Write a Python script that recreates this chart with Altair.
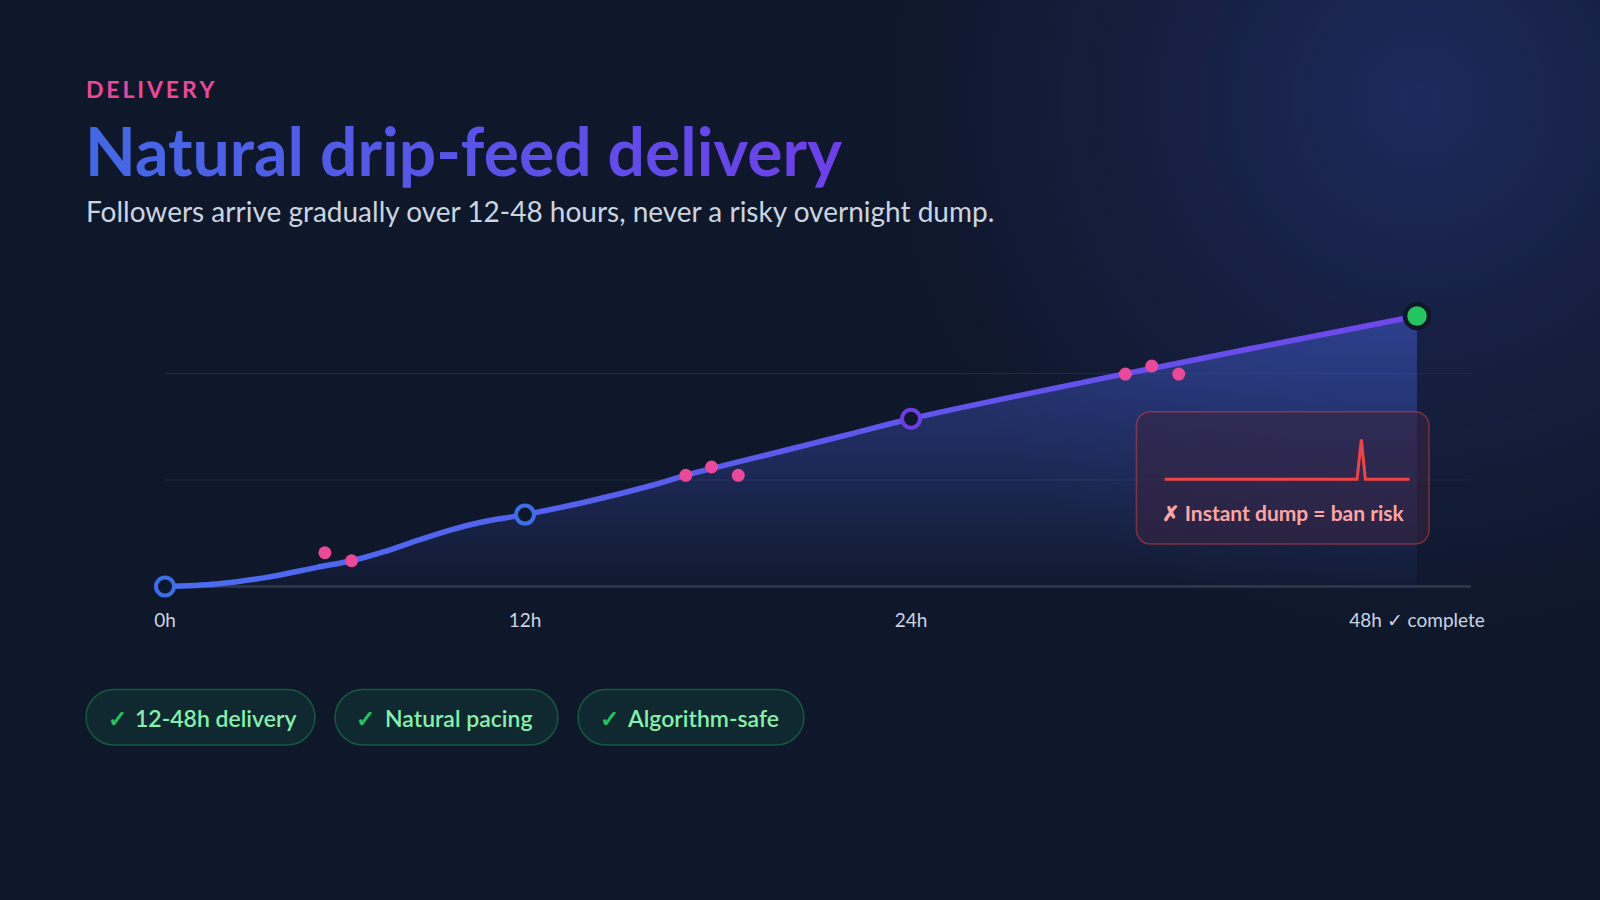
import altair as alt
import pandas as pd

# ---------------- data ----------------
curve_hours = [0, 1.72, 3.39, 5.06, 6.22, 7.28, 8.39, 9.5, 10.61, 12, 13.92, 15.99, 17.0, 20.13, 22.2, 24, 34.17, 48]
curve_values = [0, 2.3, 8.6, 18.0, 24.2, 32.5, 43.0, 53.0, 60.8, 67.5, 79.6, 95.3, 104.4, 128.2, 143.8, 157.5, 199.8, 254]

milestone_hours = [0, 12, 24]
milestone_values = [0, 67.5, 157.5]
complete_hours = [48]
complete_values = [254]

arrival_hours = [5.33, 6.22, 17.0, 17.8, 18.63, 34.17, 35.42, 36.7]
arrival_values = [31.7, 24.2, 104.4, 112.2, 104.4, 199.5, 207.0, 199.5]

grid_levels = [100, 200]
tick_hours = [0, 12, 24, 48]
tick_labels = ["0h", "12h", "24h", "48h \u2713 complete"]

# "instant dump" inset sparkline (in the main chart's units)
dump_hours = [36.03, 45.16, 45.36, 45.55, 47.64]
dump_values = [100.7, 100.7, 138.2, 100.7, 100.7]
dump_box = {"h0": 34.69, "h1": 48.57, "v0": 39.9, "v1": 164.1}
dump_text = "\u2717 Instant dump = ban risk"

eyebrow = "D\u2009E\u2009L\u2009I\u2009V\u2009E\u2009R\u2009Y"
title = "Natural drip-feed delivery"
subtitle = "Followers arrive gradually over 12-48 hours, never a risky overnight dump."
pill_labels = ["12-48h delivery", "Natural pacing", "Algorithm-safe"]

# ---------------- styling / layout ----------------
FONT = "Lato"
BG = "#0f172a"
X_END = 50.56

xs = alt.Scale(domain=[0, 12, 24, 48], range=[165, 525, 911, 1417], nice=False, zero=False)
ys = alt.Scale(domain=[0, 200], range=[586.5, 373.5], nice=False, zero=False)

def X(f):
    return alt.X(f, type="quantitative", scale=xs, axis=None)

def Y(f):
    return alt.Y(f, type="quantitative", scale=ys, axis=None)

one = pd.DataFrame({"_": [0]})

curve = pd.DataFrame({"h": curve_hours, "v": curve_values})
miles = pd.DataFrame({"h": milestone_hours, "v": milestone_values})
comp = pd.DataFrame({"h": complete_hours, "v": complete_values})
arr = pd.DataFrame({"h": arrival_hours, "v": arrival_values})
grid = pd.DataFrame({"v": grid_levels, "h0": 0, "h1": X_END})
base_line = pd.DataFrame({"v": [0], "h0": [0], "h1": [X_END]})
ticks = pd.DataFrame({"h": tick_hours, "t": tick_labels})
dump = pd.DataFrame({"h": dump_hours, "v": dump_values})
box = pd.DataFrame([dump_box])
box_txt = pd.DataFrame({"h": [(dump_box["h0"] + dump_box["h1"]) / 2], "v": [66.9], "t": [dump_text]})

# background glow
glow = alt.Chart(one).mark_rect(
    fill=alt.RadialGradient(
        gradient="radial", x1=0.5, y1=0.5, r1=0, x2=0.5, y2=0.5, r2=0.5,
        stops=[alt.GradientStop(offset=0, color="rgba(64,84,210,0.30)"),
               alt.GradientStop(offset=0.5, color="rgba(64,84,210,0.13)"),
               alt.GradientStop(offset=1, color="rgba(64,84,210,0)")])
).encode(x=alt.value(880), x2=alt.value(1960), y=alt.value(-440), y2=alt.value(640))

grid_l = alt.Chart(grid).mark_rule(stroke="#1f2a3c", strokeWidth=1).encode(
    x=X("h0"), x2="h1", y=Y("v"))
base_l = alt.Chart(base_line).mark_rule(stroke="#2f3a4d", strokeWidth=2.5).encode(
    x=X("h0"), x2="h1", y=Y("v"))

area = alt.Chart(curve).mark_area(
    interpolate="catmull-rom",
    fill=alt.LinearGradient(
        gradient="linear", x1=0, y1=0, x2=0, y2=1,
        stops=[alt.GradientStop(offset=0, color="rgba(72,100,230,0.46)"),
               alt.GradientStop(offset=0.6, color="rgba(72,100,230,0.22)"),
               alt.GradientStop(offset=1, color="rgba(72,100,230,0.03)")])
).encode(x=X("h"), y=Y("v"))

line = alt.Chart(curve).mark_line(
    interpolate="catmull-rom", strokeWidth=5.5, strokeCap="round",
    stroke=alt.LinearGradient(
        gradient="linear", x1=0, y1=0, x2=1, y2=0,
        stops=[alt.GradientStop(offset=0, color="#4a6cf0"),
               alt.GradientStop(offset=1, color="#6e47ea")])
).encode(x=X("h"), y=Y("v"))

arr_l = alt.Chart(arr).mark_circle(size=169, opacity=1, color="#ec4899").encode(
    x=X("h"), y=Y("v"))

miles_l = alt.Chart(miles).mark_point(
    shape="circle", filled=True, size=324, strokeWidth=4, fill=BG, opacity=1
).encode(
    x=X("h"), y=Y("v"),
    stroke=alt.Stroke("h:O", scale=alt.Scale(domain=milestone_hours,
                                             range=["#3b6ee8", "#3e6ee6", "#6c3ee6"]), legend=None))

comp_l = alt.Chart(comp).mark_point(
    shape="circle", filled=True, size=576, strokeWidth=4.5, fill="#22c55e", stroke=BG, opacity=1
).encode(x=X("h"), y=Y("v"))

box_l = alt.Chart(box).mark_rect(
    cornerRadius=14, fill="#3a2540", fillOpacity=0.55,
    stroke="#ef4444", strokeOpacity=0.45, strokeWidth=1.5
).encode(x=X("h0"), x2="h1", y=Y("v0"), y2="v1")

dump_l = alt.Chart(dump).mark_line(color="#ef4444", strokeWidth=3, strokeJoin="miter").encode(
    x=X("h"), y=Y("v"))

box_t = alt.Chart(box_txt).mark_text(
    font=FONT, fontSize=21, fontWeight="bold", color="#fca5a5", baseline="middle", align="center"
).encode(x=X("h"), y=Y("v"), text="t:N")

tick_t = alt.Chart(ticks).mark_text(
    font=FONT, fontSize=19, color="#cbd5e1", baseline="alphabetic", align="center"
).encode(x=X("h"), y=alt.value(627), text="t:N")

# header texts
eyebrow_t = alt.Chart(one).mark_text(
    text=eyebrow, font=FONT, fontSize=23, fontWeight="bold", color="#ec4899",
    align="left", baseline="alphabetic").encode(x=alt.value(86), y=alt.value(98))
title_t = alt.Chart(one).mark_text(
    text=title, font=FONT, fontSize=66, fontWeight="bold", align="left", baseline="alphabetic",
    fill=alt.LinearGradient(
        gradient="linear", x1=0, y1=0, x2=1, y2=0,
        stops=[alt.GradientStop(offset=0, color="#4468e6"),
               alt.GradientStop(offset=1, color="#6d3fea")])
).encode(x=alt.value(85), y=alt.value(176))
sub_t = alt.Chart(one).mark_text(
    text=subtitle, font=FONT, fontSize=28, color="#cbd5e1", align="left", baseline="alphabetic"
).encode(x=alt.value(86), y=alt.value(222))

# pills
pill_x0 = [86, 335, 578]
pill_x1 = [315, 558, 804]
pill_chk = [117, 365, 609]
pill_txt = [135, 385, 628]
pills = pd.DataFrame({"x0": pill_x0, "x1": pill_x1, "c": pill_chk, "tx": pill_txt, "t": pill_labels})

pill_r = alt.Chart(pills).mark_rect(
    cornerRadius=28, fill="#22c55e", fillOpacity=0.1, stroke="#22c55e", strokeOpacity=0.35, strokeWidth=1.5
).encode(x=alt.X("x0:Q", scale=None), x2="x1:Q", y=alt.value(689.5), y2=alt.value(745))
pill_c = alt.Chart(pills).mark_text(
    text="\u2713", font=FONT, fontSize=23, fontWeight="bold", color="#22c55e", baseline="alphabetic", align="center"
).encode(x=alt.X("c:Q", scale=None), y=alt.value(727))
pill_t = alt.Chart(pills).mark_text(
    font=FONT, fontSize=23, fontWeight=600, color="#86efac", baseline="alphabetic", align="left"
).encode(x=alt.X("tx:Q", scale=None), y=alt.value(727), text="t:N")

chart = alt.layer(
    glow, grid_l, base_l, area, line, arr_l, miles_l, comp_l, box_l, dump_l, box_t, tick_t,
    eyebrow_t, title_t, sub_t, pill_r, pill_c, pill_t
).properties(
    width=1600, height=900, padding=0,
    autosize=alt.AutoSizeParams(type="none"),
    background=BG,
).configure_view(strokeWidth=0)

chart.save("out.html", embed_options={"renderer": "svg", "actions": False})
